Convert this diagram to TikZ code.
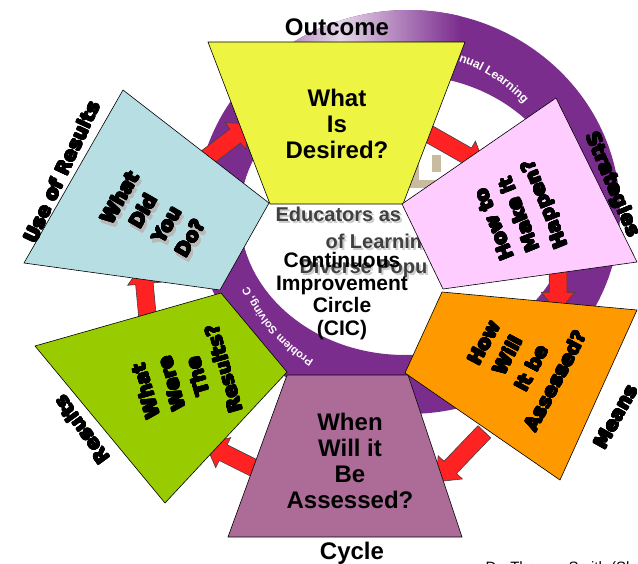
\documentclass[tikz,border=0pt]{standalone}
\usepackage{fontspec}
\setmainfont{Liberation Sans}
\newfontfamily\heavyfont{DejaVu Sans Bold}
\usepackage[copies]{contour}
\contourlength{0.7pt}
\contournumber{16}
\usetikzlibrary{shapes.arrows,calc,decorations.text}

\definecolor{ringpurple}{HTML}{7B2D8E}
\definecolor{logotan}{HTML}{C8BBA0}
\definecolor{arrowred}{HTML}{FF2222}
\definecolor{desiredyellow}{HTML}{EDF542}
\definecolor{happenpink}{HTML}{FFCCFF}
\definecolor{assessorange}{HTML}{FF9900}
\definecolor{whenpurple}{HTML}{AD6B98}
\definecolor{resultgreen}{HTML}{99CC00}
\definecolor{didblue}{HTML}{B7DFE3}

\tikzset{
  stage/.style={draw=black, line width=0.6pt},
  redarrow/.style={single arrow, draw=black!75, fill=arrowred, line width=0.6pt,
    inner xsep=0pt, inner ysep=8.5pt, single arrow head extend=8pt,
    single arrow tip angle=80},
  flat/.style={font=\bfseries\fontsize{24}{26}\selectfont, align=center},
  heavy/.style={font=\heavyfont\fontsize{19}{27}\selectfont, align=center},
  logotext/.style={font=\bfseries\fontsize{20}{20}\selectfont, anchor=west},
  ringtext/.style={decorate, decoration={text along path, text align=left}}
}

% thick lettering for the rotated words
\newcommand\hv[1]{\contour{.}{#1}}

% block arrow from one named point to another
\newcommand\blockarrow[3]{%
  \path let \p1=($(#3)-(#2)$), \n1={atan2(\y1,\x1)}, \n2={veclen(\x1,\y1)} in
    node[redarrow, rotate=\n1, minimum height=\n2] (#1) at ($(#2)!0.5!(#3)$) {};}

\begin{document}
\begin{tikzpicture}[x=1pt,y=-1pt]
\useasboundingbox (0,0) rectangle (638,563);

% logo behind the circle
\begin{scope}[even odd rule]
  \clip (408,212) ellipse [x radius=212, y radius=202]
    (405,215) ellipse [x radius=165, y radius=140];
  \fill[ringpurple] (150,0) rectangle (638,450);
  \shade[left color=ringpurple, right color=ringpurple, middle color=white!80!ringpurple]
    (220,0) rectangle (460,55);
\end{scope}
\fill[logotan] (410,155) rectangle (419,188);
\fill[logotan] (410,180) rectangle (447,188);
\fill[logotan] (432,155) rectangle (441,172);
\path[ringtext, decoration={text={|\bfseries\fontsize{12}{12}\selectfont\color{white}|inual Learning}}]
  (405,215) ++(-72:163) arc[start angle=-72, end angle=-25, radius=163];
\path[ringtext, decoration={text={|\bfseries\fontsize{11}{11}\selectfont\color{white}|Problem Solving, C}}]
  (405,215) ++(-238:172) arc[start angle=-238, end angle=-190, radius=172];
\node[logotext, text=gray!40] at (274,216) {Educators as};
\node[logotext, text=black!75] (educators) at (272,214) {Educators as};
\node[logotext, text=gray!40] at (324,243) {of Learnin};
\node[logotext, text=black!75] (learning) at (322,241) {of Learnin};
\node[logotext, text=gray!40] at (298,270) {Diverse Popu};
\node[logotext, text=black!75] (diverse) at (296,268) {Diverse Popu};

% arrow ends
\coordinate (didOut) at (200,163);
\coordinate (desiredIn) at (247,127);
\coordinate (desiredOut) at (422,130);
\coordinate (happenIn) at (480,163);
\coordinate (happenOut) at (558,262);
\coordinate (assessIn) at (558,307);
\coordinate (assessOut) at (488,428);
\coordinate (whenIn) at (440,478);
\coordinate (whenOut) at (268,475);
\coordinate (resultsIn) at (210,446);
\coordinate (resultsOut) at (148,322);
\coordinate (didIn) at (143,269);

\blockarrow{arrA}{didOut}{desiredIn}
\blockarrow{arrB}{desiredOut}{happenIn}
\blockarrow{arrC}{happenOut}{assessIn}
\blockarrow{arrD}{assessOut}{whenIn}
\blockarrow{arrE}{whenOut}{resultsIn}
\blockarrow{arrF}{resultsOut}{didIn}

% the six stages
\filldraw[stage, fill=desiredyellow] (208,42) -- (465,42) -- (403,204) -- (270,204) -- cycle;
\filldraw[stage, fill=happenpink] (556,98) -- (637,262) -- (443,289) -- (402,204) -- cycle;
\filldraw[stage, fill=assessorange] (442,292) -- (637,310) -- (560,480) -- (405,373) -- cycle;
\filldraw[stage, fill=whenpurple] (287,375) -- (408,375) -- (462,537) -- (228,537) -- cycle;
\filldraw[stage, fill=resultgreen] (221,293) -- (287,372) -- (165,503) -- (35,346) -- cycle;
\filldraw[stage, fill=didblue] (123,90) -- (269,203) -- (220,290) -- (24,263) -- cycle;

\node[flat] (desired) at (337,124) {What\\Is\\Desired?};
\node[flat] (when) at (350,461) {When\\Will it\\Be\\Assessed?};
\node[heavy, rotate=60, text=gray!55] at (157,222) {\hv{What}\\\hv{Did}\\\hv{You}\\\hv{Do?}};
\node[heavy, rotate=60] (did) at (155,218) {\hv{What}\\\hv{Did}\\\hv{You}\\\hv{Do?}};
\node[heavy, rotate=112] (happen) at (521,214) {\hv{How to}\\\hv{Make it}\\\hv{Happen?}};
\node[heavy, rotate=62] (assess) at (520,362) {\hv{How}\\\hv{Will}\\\hv{It be}\\\hv{Assessed?}};
\node[heavy, rotate=106] (results) at (185,380) {\hv{What}\\\hv{Were}\\\hv{The}\\\hv{Results?}};

\node[font=\bfseries\fontsize{21}{22.7}\selectfont, align=center] (cic) at (342,296)
  {Continuous\\Improvement\\Circle\\(CIC)};

% outer labels
\node[font=\bfseries\fontsize{24}{24}\selectfont] (outcome) at (337,27) {Outcome};
\node[font=\bfseries\fontsize{24}{24}\selectfont] (cycle) at (352,553) {Cycle};
\node[heavy, rotate=65] (use) at (62,172) {\hv{Use of Results}};
\node[heavy, rotate=-67] (strategies) at (612,185) {\hv{Strategies}};
\node[heavy, rotate=61] (means) at (616,417) {\hv{Means}};
\node[heavy, rotate=126] (resultslabel) at (82,430) {\hv{Results}};
\node[font=\fontsize{15}{15}\selectfont, anchor=base west] (credit) at (482,572) {Dr. Thomas Smith (Sl};
\end{tikzpicture}
\end{document}
